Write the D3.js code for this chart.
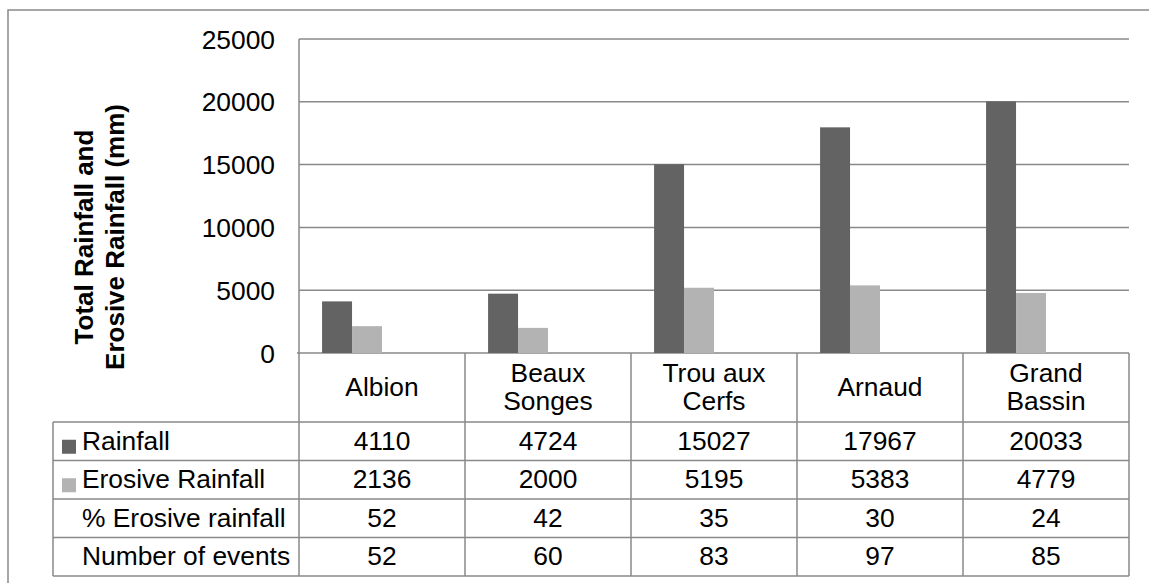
<!DOCTYPE html>
<html><head><meta charset="utf-8">
<script src="https://cdn.jsdelivr.net/npm/d3@7"></script>
<style>
html,body{margin:0;padding:0;background:#fff;}
svg{display:block;font-family:"Liberation Sans",Arial,sans-serif;}
</style></head>
<body>
<svg id="chart" width="1149" height="583"></svg>
<script>
// ---- data ----
const categories = ["Albion", "Beaux Songes", "Trou aux Cerfs", "Arnaud", "Grand Bassin"];
const categoryLines = [["Albion"], ["Beaux", "Songes"], ["Trou aux", "Cerfs"], ["Arnaud"], ["Grand", "Bassin"]];
const rainfall = [4110, 4724, 15027, 17967, 20033];
const erosiveRainfall = [2136, 2000, 5195, 5383, 4779];
const pctErosive = [52, 42, 35, 30, 24];
const numberOfEvents = [52, 60, 83, 97, 85];
const seriesNames = ["Rainfall", "Erosive Rainfall", "% Erosive rainfall", "Number of events"];
const yTicks = [0, 5000, 10000, 15000, 20000, 25000];
const yTitle = ["Total Rainfall and", "Erosive Rainfall (mm)"];

// ---- layout ----
const svg = d3.select("#chart");
const gridColor = "#898989";
const darkColor = "#636363";
const lightColor = "#b3b3b3";
const plotLeft = 299, plotRight = 1129, plotTop = 39, plotBottom = 353;
const tableLeft = 53;
const rowTops = [422, 460.5, 499, 537.5, 576];
const fontSize = 25;
const sx = 1.055;

const x0 = d3.scaleBand().domain(categories).range([plotLeft, plotRight]).padding(0);
const bw = x0.bandwidth();
const gap = bw * 0.139;
const x1 = d3.scaleBand().domain(seriesNames).range([gap, bw - gap]).padding(0);
const y = d3.scaleLinear().domain([0, 25000]).range([plotBottom, plotTop]);

function txt(g, x, yy, s, anchor, opts) {
  opts = opts || {};
  return g.append("text")
    .attr("transform", `translate(${x},${yy}) scale(${sx},1)`)
    .attr("text-anchor", anchor)
    .attr("font-size", opts.size || fontSize)
    .attr("font-weight", opts.weight || "normal")
    .attr("fill", "#000")
    .text(s);
}

// outer frame
svg.append("rect").attr("x", 8).attr("y", 10).attr("width", 1200).attr("height", 700)
  .attr("fill", "none").attr("stroke", gridColor).attr("stroke-width", 1.5);

// gridlines
const gGrid = svg.append("g");
gGrid.selectAll("line").data(yTicks).join("line")
  .attr("x1", d => d === 0 ? plotLeft - 2 : plotLeft).attr("x2", plotRight)
  .attr("y1", d => y(d)).attr("y2", d => y(d))
  .attr("stroke", gridColor).attr("stroke-width", 1.5);

// y axis line
svg.append("line").attr("x1", plotLeft).attr("x2", plotLeft).attr("y1", plotTop).attr("y2", rowTops[4])
  .attr("stroke", gridColor).attr("stroke-width", 1.5);

// y tick labels via axis
const yAxis = d3.axisLeft(y).tickValues(yTicks).tickSize(0).tickPadding(0).tickFormat(d3.format("d"));
const gAxis = svg.append("g").attr("transform", "translate(275,0)").call(yAxis);
gAxis.select(".domain").remove();
gAxis.selectAll("text").attr("font-size", fontSize).attr("font-family", "Liberation Sans, Arial, sans-serif")
  .attr("fill", "#000").attr("x", 0).attr("dy", null).attr("y", 9)
  .attr("transform", `scale(${sx},1)`);

// y title
const gT = svg.append("g").attr("transform", "translate(0,237) rotate(-90)");
yTitle.forEach((t, i) => {
  gT.append("text").attr("x", 0).attr("y", 93 + i * 31).attr("text-anchor", "middle")
    .attr("font-size", 26).attr("font-weight", "bold").attr("fill", "#000").text(t);
});

// bars
const barSeries = [
  {name: seriesNames[0], values: rainfall, color: darkColor},
  {name: seriesNames[1], values: erosiveRainfall, color: lightColor}
];
barSeries.forEach(s => {
  svg.append("g").selectAll("rect").data(categories).join("rect")
    .attr("x", (c) => x0(c) + x1(s.name))
    .attr("width", x1.bandwidth())
    .attr("y", (c, i) => y(s.values[i]))
    .attr("height", (c, i) => y(0) - y(s.values[i]))
    .attr("fill", s.color);
});

// table lines
const gTab = svg.append("g").attr("stroke", gridColor).attr("stroke-width", 1.5);
rowTops.forEach(r => {
  gTab.append("line").attr("x1", tableLeft).attr("x2", plotRight).attr("y1", r).attr("y2", r);
});
gTab.append("line").attr("x1", tableLeft).attr("x2", tableLeft).attr("y1", rowTops[0]).attr("y2", rowTops[4]);
categories.forEach((c, i) => {
  if (i > 0) gTab.append("line").attr("x1", x0(c)).attr("x2", x0(c)).attr("y1", plotBottom).attr("y2", rowTops[4]);
});
gTab.append("line").attr("x1", plotRight).attr("x2", plotRight).attr("y1", plotBottom).attr("y2", rowTops[4]);

// category labels
const gCat = svg.append("g");
const hdrCenter = (plotBottom + rowTops[0]) / 2;
categories.forEach((c, i) => {
  const lines = categoryLines[i];
  const cx = x0(c) + bw / 2;
  const base = hdrCenter + 8.5 - (lines.length - 1) * 14;
  lines.forEach((l, j) => txt(gCat, cx, base + j * 28, l, "middle"));
});

// table rows
const tableRows = [
  {label: seriesNames[0], values: rainfall, key: darkColor},
  {label: seriesNames[1], values: erosiveRainfall, key: lightColor},
  {label: seriesNames[2], values: pctErosive, key: null},
  {label: seriesNames[3], values: numberOfEvents, key: null}
];
const gRows = svg.append("g");
tableRows.forEach((r, i) => {
  const cy = (rowTops[i] + rowTops[i + 1]) / 2;
  if (r.key) {
    gRows.append("rect").attr("x", 62).attr("y", cy - 1.5).attr("width", 14).attr("height", 14).attr("fill", r.key);
  }
  txt(gRows, 82, cy + 8.5, r.label, "start");
  categories.forEach((c, j) => {
    txt(gRows, x0(c) + bw / 2, cy + 8.5, String(r.values[j]), "middle");
  });
});
</script>
</body></html>
